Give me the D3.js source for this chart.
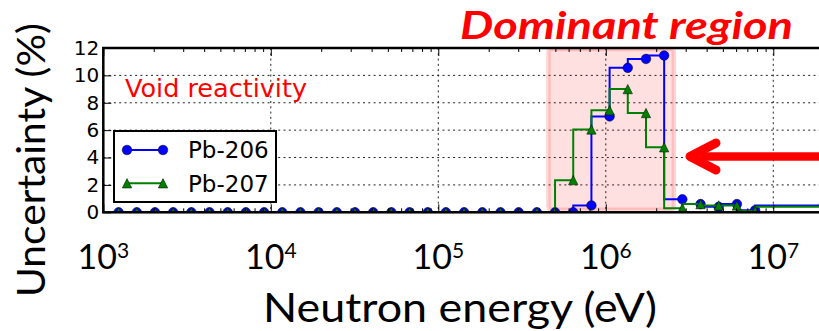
<!DOCTYPE html>
<html>
<head>
<meta charset="utf-8">
<script src="https://cdn.jsdelivr.net/npm/d3@7"></script>
<style>
  body { margin: 0; background: #fff; }
  svg { display: block; }
</style>
</head>
<body>
<script>
// group energies (eV), one marker per group, plotted as steps-pre
const energies = [
  1234, 1585, 2035, 2613, 3355, 4307, 5531, 7102, 9119,
  11710, 15030, 19300, 24790, 31830, 40870, 52480, 67380, 86520,
  111100, 142600, 183200, 235200, 302000, 387700, 497900, 639300, 820800,
  1054000, 1353000, 1738000, 2231000, 2865000, 3679000, 4724000, 6065000, 7788000,
  20000000
];

// uncertainty (%) per group
const pb206 = [
  0, 0, 0, 0, 0, 0, 0, 0, 0,
  0, 0, 0, 0, 0, 0, 0, 0, 0,
  0, 0, 0, 0, 0, 0, 0, 0, 0.5,
  7.0, 10.55, 11.2, 11.45, 0.95, 0.6, 0.4, 0.6, 0.15,
  0.5
];
const pb207 = [
  0, 0, 0, 0, 0, 0, 0, 0, 0,
  0, 0, 0, 0, 0, 0, 0, 0, 0,
  0, 0, 0, 0, 0, 0, 0, 2.35, 6.05,
  7.45, 9.0, 7.25, 4.75, 0.3, 0.6, 0.5, 0.5, 0.1,
  0.4
];

const seriesNames = ['Pb-206', 'Pb-207'];
const seriesColors = ['#0000ff', '#008000'];
const yTicks = [0, 2, 4, 6, 8, 10, 12];
const xTickExps = [3, 4, 5, 6, 7];
const dominantRange = [4.55e5, 2.55e6];

const W = 819, H = 331;
const pLeft = 103.3, pRight = 823.7, pTop = 48, pBottom = 212.3;

const svg = d3.select('body').append('svg')
  .attr('width', W)
  .attr('height', H);

const x = d3.scaleLog().domain([1e3, 2e7]).range([pLeft, pRight]);
const y = d3.scaleLinear().domain([0, 12]).range([pBottom, pTop]);

const majors = xTickExps.map(e => Math.pow(10, e));
let minors = [];
xTickExps.forEach(e => {
  for (let m = 2; m <= 9; m++) {
    let v = m * Math.pow(10, e);
    if (v <= 2e7) minors.push(v);
  }
});

svg.append('defs').append('clipPath')
  .attr('id', 'plotClip')
  .append('rect')
  .attr('x', pLeft).attr('y', pTop)
  .attr('width', pRight - pLeft).attr('height', pBottom - pTop);

// dotted grid
let grid = svg.append('g')
  .attr('stroke', '#222')
  .attr('stroke-width', 1)
  .attr('stroke-dasharray', '2,3.3');

grid.selectAll('.gx')
  .data(majors.slice(1))
  .enter().append('line')
  .attr('x1', d => x(d)).attr('x2', d => x(d))
  .attr('y1', pTop).attr('y2', pBottom);

grid.selectAll('.gy')
  .data(yTicks.slice(1, -1))
  .enter().append('line')
  .attr('x1', pLeft).attr('x2', pRight)
  .attr('y1', d => y(d)).attr('y2', d => y(d));

// shaded "dominant" box
svg.append('rect')
  .attr('x', x(dominantRange[0]))
  .attr('y', pTop + 1)
  .attr('width', x(dominantRange[1]) - x(dominantRange[0]))
  .attr('height', pBottom - pTop - 3.5)
  .attr('rx', 3)
  .attr('fill', 'rgba(255,0,0,0.12)')
  .attr('stroke', 'rgba(255,60,60,0.22)')
  .attr('stroke-width', 4.5);

// series
const seriesData = [pb206, pb207].map((vals, i) => ({
  name: seriesNames[i],
  color: seriesColors[i],
  points: energies.map((e, j) => ({ e: e, v: vals[j] }))
}));

const triPath = (h) => `M0,${-h}L${h},${h}L${-h},${h}Z`;

const drawMarker = (sel, i) => {
  if (i === 0) {
    sel.append('circle').attr('r', 4.8)
      .attr('fill', seriesColors[0])
      .attr('stroke', '#000').attr('stroke-width', 0.5);
  } else {
    sel.append('path').attr('d', triPath(4.7))
      .attr('fill', seriesColors[1])
      .attr('stroke', '#000').attr('stroke-width', 0.5);
  }
};

const line = d3.line()
  .x(d => x(d.e))
  .y(d => y(d.v))
  .curve(d3.curveStepBefore);

let plot = svg.append('g').attr('clip-path', 'url(#plotClip)');

seriesData.forEach((s, i) => {
  let g = plot.append('g');
  g.append('path')
    .datum(s.points)
    .attr('fill', 'none')
    .attr('stroke', s.color)
    .attr('stroke-width', 2)
    .attr('d', line);
  g.selectAll('.m')
    .data(s.points)
    .enter().append('g')
    .attr('transform', d => `translate(${x(d.e)},${y(d.v)})`)
    .each(function () { drawMarker(d3.select(this), i); });
});

// spines and ticks
svg.append('g')
  .attr('transform', `translate(0,${pBottom})`)
  .call(d3.axisBottom(x).tickValues(majors).tickSize(-8).tickFormat(''))
  .call(g => g.select('.domain').remove());
svg.append('g')
  .attr('transform', `translate(0,${pBottom})`)
  .call(d3.axisBottom(x).tickValues(minors).tickSize(-4).tickFormat(''))
  .call(g => g.select('.domain').remove());
svg.append('g')
  .attr('transform', `translate(0,${pTop})`)
  .call(d3.axisTop(x).tickValues(majors).tickSize(-8).tickFormat(''))
  .call(g => g.select('.domain').remove());
svg.append('g')
  .attr('transform', `translate(0,${pTop})`)
  .call(d3.axisTop(x).tickValues(minors).tickSize(-4).tickFormat(''))
  .call(g => g.select('.domain').remove());

let yAxis = svg.append('g')
  .attr('transform', `translate(${pLeft},0)`)
  .call(d3.axisLeft(y).tickValues(yTicks).tickSize(-8).tickPadding(4));
yAxis.select('.domain').remove();
yAxis.selectAll('text')
  .attr('font-family', 'DejaVu Sans')
  .attr('font-size', 20)
  .attr('fill', '#000');

svg.selectAll('.tick line').attr('stroke', '#000').attr('stroke-width', 1);

svg.append('rect')
  .attr('x', pLeft).attr('y', pTop)
  .attr('width', pRight - pLeft).attr('height', pBottom - pTop)
  .attr('fill', 'none')
  .attr('stroke', '#000')
  .attr('stroke-width', 2.5);

// x tick labels 10^n
let xLabels = svg.append('g')
  .attr('font-family', 'Lato')
  .attr('fill', '#000');
xTickExps.forEach(e => {
  let t = xLabels.append('text')
    .attr('x', x(Math.pow(10, e)))
    .attr('y', 269.3)
    .attr('text-anchor', 'middle')
    .attr('font-size', 34);
  t.append('tspan').text('10');
  t.append('tspan').attr('font-size', 21).attr('dy', -11).text(e);
});

// axis titles
svg.append('text')
  .attr('x', 460).attr('y', 321.5)
  .attr('text-anchor', 'middle')
  .attr('font-family', 'Lato')
  .attr('font-size', 40)
  .attr('textLength', 394)
  .attr('lengthAdjust', 'spacingAndGlyphs')
  .text('Neutron energy (eV)');

svg.append('text')
  .attr('transform', 'translate(45,160) rotate(-90)')
  .attr('text-anchor', 'middle')
  .attr('font-family', 'Lato')
  .attr('font-size', 38)
  .attr('textLength', 274)
  .attr('lengthAdjust', 'spacingAndGlyphs')
  .text('Uncertainty (%)');

// annotations
svg.append('text')
  .attr('x', 125).attr('y', 96.7)
  .attr('font-family', 'DejaVu Sans')
  .attr('font-size', 25.5)
  .attr('fill', '#ff0000')
  .text('Void reactivity');

svg.append('text')
  .attr('x', 460).attr('y', 39)
  .attr('font-family', 'Lato')
  .attr('font-weight', 'bold')
  .attr('font-style', 'italic')
  .attr('font-size', 38)
  .attr('fill', '#ff0000')
  .attr('textLength', 333)
  .attr('lengthAdjust', 'spacingAndGlyphs')
  .text('Dominant region');

// red arrow
let arrow = svg.append('g')
  .attr('stroke', '#ff0000')
  .attr('fill', 'none');
arrow.append('line')
  .attr('x1', 700).attr('x2', 830)
  .attr('y1', 156.5).attr('y2', 156.5)
  .attr('stroke-width', 8.5);
arrow.append('path')
  .attr('d', 'M716,143L690,156.5L716,170')
  .attr('stroke-width', 9)
  .attr('stroke-linecap', 'round')
  .attr('stroke-linejoin', 'round');

// legend
let legend = svg.append('g');
legend.append('rect')
  .attr('x', 114).attr('y', 131)
  .attr('width', 162).attr('height', 71)
  .attr('fill', '#fff')
  .attr('stroke', '#000')
  .attr('stroke-width', 2);

seriesNames.forEach((name, i) => {
  let ly = 150 + i * 33.3;
  let row = legend.append('g');
  row.append('line')
    .attr('x1', 127).attr('x2', 163)
    .attr('y1', ly).attr('y2', ly)
    .attr('stroke', seriesColors[i])
    .attr('stroke-width', 2);
  [127, 163].forEach(mx => {
    let m = row.append('g').attr('transform', `translate(${mx},${ly})`);
    drawMarker(m, i);
  });
  row.append('text')
    .attr('x', 188).attr('y', ly + 8.2)
    .attr('font-family', 'DejaVu Sans')
    .attr('font-size', 23)
    .attr('fill', '#000')
    .text(name);
});
</script>
</body>
</html>
